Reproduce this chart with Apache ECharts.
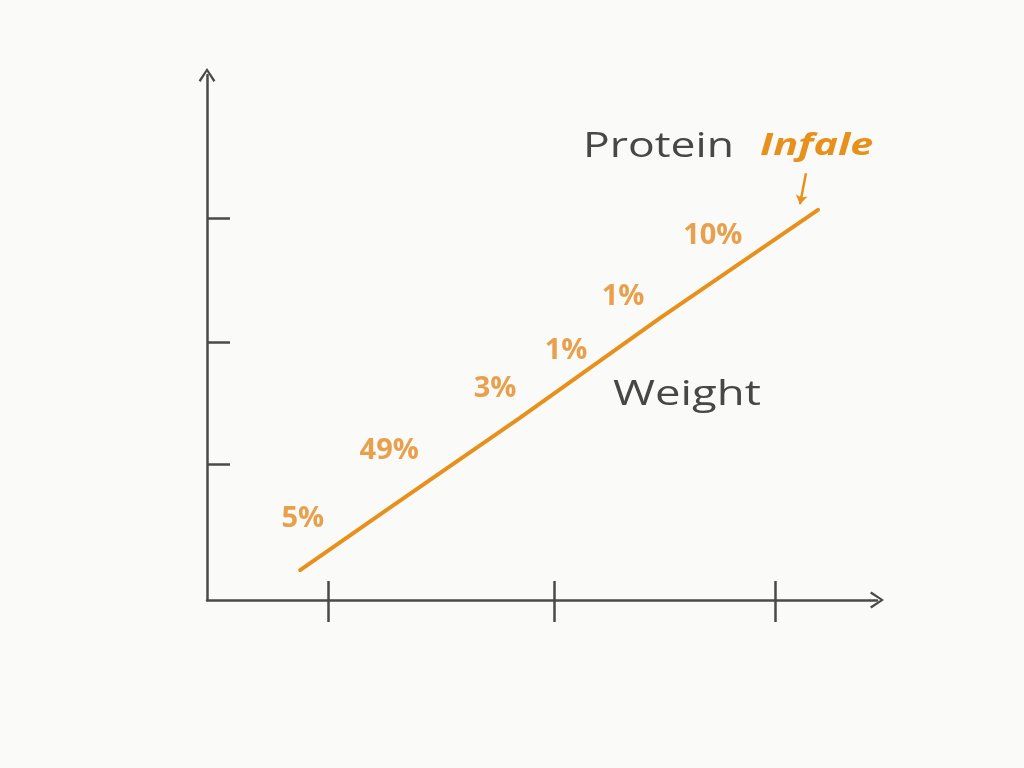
<!DOCTYPE html>
<html>
<head>
<meta charset="utf-8">
<script src="https://cdn.jsdelivr.net/npm/echarts@6/dist/echarts.min.js"></script>
<style>html,body{margin:0;padding:0;background:#fafaf9;}#c{width:1024px;height:768px;}</style>
</head>
<body>
<div id="c"></div>
<script>
// Line vertices (axis units, 0..100 on both axes)
const lineX = [13.9, 27.2, 46.7, 67.6, 91.2];
const lineY = [5.7, 17.5, 34.7, 53.7, 74.3];
// Percentage annotations along the line
const pctLabels = ['5%', '49%', '3%', '1%', '1%', '10%'];
const pctX = [14.3, 27.2, 43.0, 53.6, 62.1, 75.5];
const pctY = [15.4, 28.4, 40.2, 47.4, 57.7, 69.3];
// Axis tick positions
const xTicks = [18.1, 51.8, 84.8];
const yTicks = [25.9, 49.1, 72.8];
// Text annotations
const titleTop = 'Protein';
const titleTag = 'Infale';
const lineName = 'Weight';
// Small pointer arrow from "Infale" to the line end
const pointerFrom = [89.4, 81.3];
const pointerTo = [88.5, 75.4];

const AXIS = '#4a4a4a';
const ORANGE = '#E8901C';
const LABEL = '#E38A22';
const chevron = 'path://M0,9 L6,0 L12,9 L10.6,10 L6,2.6 L1.4,10 Z';

const chart = echarts.init(document.getElementById('c'));
const option = {
  backgroundColor: '#fafaf9',
  animation: false,
  grid: { left: 207, right: 147, top: 75, bottom: 168 },
  xAxis: [
    {
      type: 'value', min: 0, max: 100, position: 'bottom',
      splitLine: { show: false },
      axisLabel: { show: false },
      axisLine: { show: true, onZero: false, symbol: ['none', chevron], symbolSize: [22, 14],
        lineStyle: { color: AXIS, width: 2.5 } },
      axisTick: { show: true, inside: false, length: 22, customValues: xTicks,
        lineStyle: { color: AXIS, width: 2.5 } }
    },
    {
      type: 'value', min: 0, max: 100, position: 'bottom',
      splitLine: { show: false },
      axisLabel: { show: false },
      axisLine: { show: false },
      axisTick: { show: true, inside: true, length: 19, customValues: xTicks,
        lineStyle: { color: AXIS, width: 2.5 } }
    }
  ],
  yAxis: {
    type: 'value', min: 0, max: 100,
    splitLine: { show: false },
    axisLabel: { show: false },
    axisLine: { show: true, onZero: false, symbol: ['none', chevron], symbolSize: [22, 14],
      lineStyle: { color: AXIS, width: 2.5 } },
    axisTick: { show: true, inside: true, length: 23, customValues: yTicks,
      lineStyle: { color: AXIS, width: 2.5 } }
  },
  series: [
    {
      type: 'line',
      data: lineX.map((x, i) => [x, lineY[i]]),
      symbol: 'none',
      lineStyle: { color: ORANGE, width: 4, cap: 'round' },
      markLine: {
        silent: true,
        symbol: ['none', 'arrow'],
        symbolSize: [9, 9],
        label: { show: false },
        lineStyle: { color: ORANGE, width: 2.5, type: 'solid' },
        data: [[{ coord: pointerFrom }, { coord: pointerTo }]]
      }
    },
    {
      type: 'scatter',
      data: pctX.map((x, i) => ({ value: [x, pctY[i]], name: pctLabels[i] })),
      symbolSize: 0,
      label: {
        show: true, position: 'inside', formatter: p => p.name,
        color: LABEL, fontSize: 29, fontWeight: 'bold', fontFamily: 'Open Sans'
      }
    }
  ],
  graphic: [
    { type: 'text', x: 583, y: 130, scaleX: 1.27,
      style: { text: titleTop, fill: '#474747', font: '400 35px "Open Sans"' } },
    { type: 'text', x: 760, y: 131, scaleX: 1.33,
      style: { text: titleTag, fill: ORANGE, font: 'italic 700 31px "Open Sans"' } },
    { type: 'text', x: 613, y: 378, scaleX: 1.3,
      style: { text: lineName, fill: '#474747', font: '400 35px "Open Sans"' } }
  ]
};
chart.setOption(option);
</script>
</body>
</html>
